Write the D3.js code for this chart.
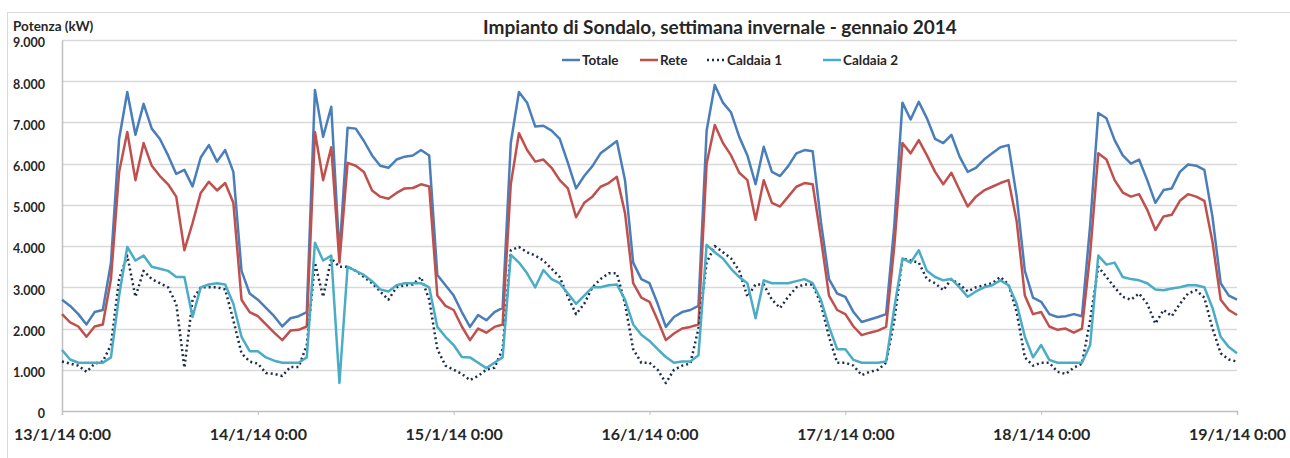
<!DOCTYPE html>
<html>
<head>
<meta charset="utf-8">
<script src="https://d3js.org/d3.v7.min.js"></script>
<style>
body { margin: 0; background: #fff; }
text { font-family: Lato, "Open Sans", sans-serif; font-weight: bold; fill: #262626; }
</style>
</head>
<body>
<svg width="1290" height="458"></svg>
<script>
// x = hours from 13/1/14 0:00 (hourly readings)
var tickHours = [0, 24, 48, 72, 96, 120, 144]
var tickLabels = ["13/1/14 0:00", "14/1/14 0:00", "15/1/14 0:00", "16/1/14 0:00", "17/1/14 0:00", "18/1/14 0:00", "19/1/14 0:00"]
var yTicks = [0, 1000, 2000, 3000, 4000, 5000, 6000, 7000, 8000, 9000]
var seriesNames = ["Totale", "Rete", "Caldaia 1", "Caldaia 2"]

var totale = [
  2700,2550,2350,2100,2400,2450,3600,6600,7740,6700,7450,6850,6600,6200,5750,5850,5450,6150,6450,6050,6330,5800,3400,2850,
  2700,2500,2300,2050,2250,2300,2400,7790,6650,7380,3800,6870,6850,6550,6200,5950,5900,6100,6170,6200,6330,6200,3300,3050,
  2800,2400,2040,2330,2200,2400,2500,6500,7740,7480,6900,6920,6800,6600,6020,5400,5700,5940,6250,6400,6550,5600,3600,3200,
  3100,2600,2040,2280,2400,2450,2550,6800,7910,7480,7240,6650,6200,5500,6410,5800,5700,5940,6250,6330,6300,4600,3200,2850,
  2770,2400,2160,2220,2280,2350,4500,7480,7070,7500,7100,6600,6500,6700,6170,5800,5900,6100,6250,6400,6450,5200,3400,2750,
  2650,2350,2280,2300,2350,2300,4500,7230,7100,6570,6200,6000,6100,5600,5050,5360,5400,5800,5980,5950,5850,4700,3100,2800,2700
]
var rete = [
  2350,2150,2050,1800,2050,2100,3200,5800,6770,5600,6500,5950,5700,5500,5200,3900,4560,5290,5560,5350,5530,5050,2700,2400,
  2300,2100,1900,1720,1950,1970,2050,6770,5600,6400,3600,6020,5950,5800,5350,5200,5150,5290,5400,5410,5500,5450,2800,2550,
  2450,2050,1720,2000,1900,2040,2100,5500,6740,6330,6050,6100,5900,5600,5400,4700,5050,5200,5440,5530,5680,4800,3100,2750,
  2650,2200,1720,1880,2000,2040,2100,6000,6940,6500,6200,5780,5600,4640,5600,5050,4960,5200,5440,5530,5500,4200,2800,2450,
  2350,2050,1840,1900,1950,2040,4000,6500,6250,6570,6200,5800,5500,5780,5360,4960,5200,5350,5440,5530,5600,4600,2800,2350,
  2400,2050,1970,2000,1900,2000,3800,6250,6100,5600,5300,5200,5260,4880,4390,4720,4760,5100,5260,5200,5100,4100,2700,2450,2330
]
var caldaia1 = [
  1200,1150,1100,950,1150,1200,1600,3200,3770,2770,3400,3200,3100,3000,2600,1050,2700,3000,3000,3000,2950,2200,1400,1200,
  1150,920,900,850,1070,1070,1600,3600,2770,3700,3500,3500,3400,3250,3100,2900,2700,3000,3050,3070,3250,2700,1500,1100,
  1000,900,750,850,1000,1050,1500,3900,3980,3850,3770,3650,3450,3250,2770,2350,2600,3000,3200,3340,3340,2600,1500,1170,
  1170,1000,680,1000,1100,1150,2000,3600,4000,3850,3700,3400,2770,3070,3070,2700,2500,2770,3000,3070,3070,2600,1800,1170,
  1170,1100,870,950,1000,1170,2200,3700,3650,3600,3200,3100,2930,3200,3070,2900,3000,3050,3100,3250,3070,2400,1300,1100,
  1170,1170,950,900,1050,1150,2200,3500,3250,3000,2770,2700,2850,2600,2120,2450,2300,2600,2850,2930,2750,2000,1400,1250,1200
]
var caldaia2 = [
  1480,1250,1170,1170,1170,1170,1300,2800,3980,3650,3770,3500,3450,3400,3250,3250,2280,3000,3070,3100,3070,2600,1800,1450,
  1450,1300,1220,1170,1170,1170,1300,4080,3650,3770,680,3500,3400,3300,3150,2950,2900,3050,3100,3100,3100,3000,2040,1800,
  1600,1310,1300,1170,1040,1170,1300,3790,3600,3340,3000,3420,3200,3100,2850,2600,2800,3000,3000,3050,3070,2700,2100,1850,
  1700,1500,1310,1170,1200,1200,1350,4030,3850,3700,3450,3250,3100,2250,3170,3100,3100,3100,3150,3200,3100,2700,2040,1500,
  1500,1240,1170,1170,1170,1200,2500,3700,3600,3900,3400,3250,3170,3200,3000,2770,2900,3000,3050,3170,3050,2600,1800,1300,
  1600,1240,1170,1170,1170,1170,1600,3770,3550,3600,3250,3200,3170,3100,2950,2930,2970,3000,3050,3050,3000,2500,1800,1550,1400
]

var colors = ["#4a7ebb", "#c0504d", "#1f2d4d", "#4bacc6"]
var dashes = [null, null, "2,3", null]
var allSeries = [totale, rete, caldaia1, caldaia2]

var svg = d3.select("svg")

var x = d3.scaleLinear().domain([0, 144]).range([62, 1237])
var y = d3.scaleLinear().domain([0, 9000]).range([411, 40])

var it = d3.formatLocale({decimal: ",", thousands: ".", grouping: [3], currency: ["", "€"]})
var fmt = it.format(",")

// chart border
svg.append("rect").attr("x", 7.5).attr("y", 12.5).attr("width", 1300).attr("height", 460)
  .attr("fill", "none").attr("stroke", "#d9d9d9")

// gridlines
svg.append("g").selectAll("line").data(yTicks.slice(1)).enter().append("line")
  .attr("x1", 62).attr("x2", 1237)
  .attr("y1", function(d) { return Math.round(y(d)) + 0.5 })
  .attr("y2", function(d) { return Math.round(y(d)) + 0.5 })
  .attr("stroke", "#d9d9d9").attr("stroke-width", 1.5)

// y axis
var yAxis = svg.append("g").attr("transform", "translate(62,0)")
  .call(d3.axisLeft(y).tickValues(yTicks).tickFormat(fmt).tickSize(0).tickPadding(17))
yAxis.select(".domain").attr("stroke", "#bfbfbf").attr("stroke-width", 1.5)
yAxis.selectAll("text").style("font-size", "12.5px").attr("dy", "0.55em")

// x axis
var xAxis = svg.append("g").attr("transform", "translate(0,411)")
  .call(d3.axisBottom(x).tickValues(tickHours).tickFormat(function(d, i) { return tickLabels[i] }).tickSize(4).tickPadding(14))
xAxis.select(".domain").attr("stroke", "#bfbfbf").attr("stroke-width", 1.5)
xAxis.selectAll("line").attr("stroke", "#bfbfbf")
xAxis.selectAll("text").style("font-size", "16px")

// lines
var line = d3.line().x(function(d, i) { return x(i) }).y(function(d) { return y(d) })
allSeries.forEach(function(s, k) {
  svg.append("path").datum(s)
    .attr("d", line)
    .attr("fill", "none")
    .attr("stroke", colors[k])
    .attr("stroke-width", 2.5)
    .attr("stroke-linejoin", "round")
    .attr("stroke-dasharray", dashes[k])
})

// titles
svg.append("text").attr("x", 720).attr("y", 34).attr("text-anchor", "middle")
  .style("font-size", "19px").text("Impianto di Sondalo, settimana invernale - gennaio 2014")
svg.append("text").attr("x", 13).attr("y", 31).style("font-size", "13.5px").text("Potenza (kW)")

// legend
var legX = [562, 640, 707, 823]
seriesNames.forEach(function(n, k) {
  svg.append("line").attr("x1", legX[k]).attr("x2", legX[k] + 18).attr("y1", 60).attr("y2", 60)
    .attr("stroke", colors[k]).attr("stroke-width", 2.5).attr("stroke-dasharray", dashes[k])
  svg.append("text").attr("x", legX[k] + 20).attr("y", 64.5).style("font-size", "13.5px").text(n)
})
</script>
</body>
</html>
